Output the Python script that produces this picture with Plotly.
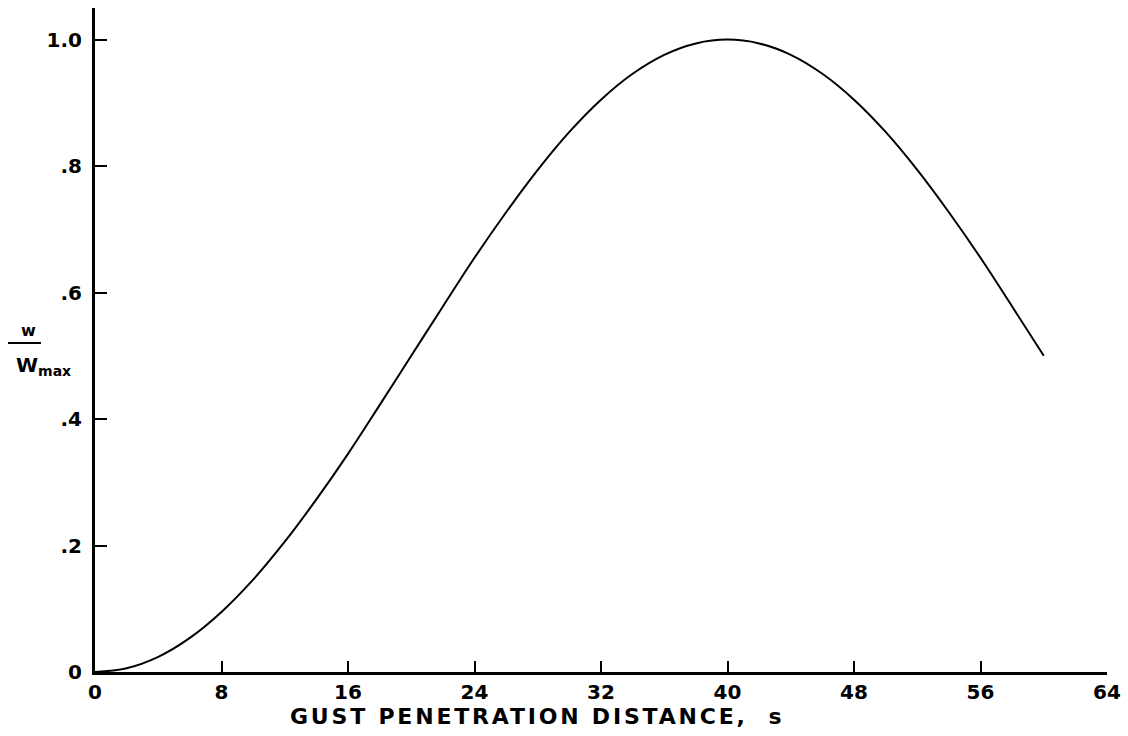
import plotly.graph_objects as go

# Data
s_values = [0, 2, 4, 6, 8, 10, 12, 14, 16, 18, 20, 22, 24, 26, 28, 30,
            32, 34, 36, 38, 40, 42, 44, 46, 48, 50, 52, 54, 56, 58, 60]
w_ratio = [0.000, 0.006, 0.024, 0.054, 0.095, 0.146, 0.206, 0.273, 0.345,
           0.422, 0.500, 0.578, 0.655, 0.727, 0.794, 0.854, 0.905, 0.946,
           0.976, 0.994, 1.000, 0.994, 0.976, 0.946, 0.905, 0.854, 0.794,
           0.727, 0.655, 0.578, 0.500]

x_ticks = [0, 8, 16, 24, 32, 40, 48, 56, 64]
x_tick_labels = ["0", "8", "16", "24", "32", "40", "48", "56", "64"]
y_ticks = [0, 0.2, 0.4, 0.6, 0.8, 1.0]
y_tick_labels = ["0", ".2", ".4", ".6", ".8", "1.0"]

W, H = 1128, 736
L, R, T, B = 95, 21, 8, 64
pw, ph = W - L - R, H - T - B

def px(x):
    return (x - L) / pw

def py(y):
    return (H - B - y) / ph

font = dict(family="DejaVu Sans", size=20, color="black", weight="bold")

fig = go.Figure()
fig.add_trace(go.Scatter(x=s_values, y=w_ratio, mode="lines",
                         line=dict(color="black", width=2, shape="spline"),
                         hoverinfo="skip", showlegend=False))

fig.update_layout(
    width=W, height=H,
    margin=dict(l=L, r=R, t=T, b=B, pad=0),
    paper_bgcolor="white", plot_bgcolor="white",
    font=font,
    xaxis=dict(range=[0, 64], tickvals=x_ticks, ticktext=x_tick_labels,
               ticks="inside", ticklen=11, tickwidth=2, tickcolor="black",
               showline=True, linewidth=3, linecolor="black",
               showgrid=False, zeroline=False, tickfont=font,
               ticklabelstandoff=0),
    yaxis=dict(range=[0, 1.05], tickvals=y_ticks, ticktext=y_tick_labels,
               ticks="inside", ticklen=12, tickwidth=2, tickcolor="black",
               showline=True, linewidth=3, linecolor="black",
               showgrid=False, zeroline=False, tickfont=font,
               ticklabelstandoff=6),
)

# x-axis title
fig.add_annotation(text='<span style="letter-spacing:2.8px">GUST PENETRATION DISTANCE,  s</span>',
                   xref="paper", yref="paper",
                   x=px(537), y=py(716), xanchor="center", yanchor="middle",
                   showarrow=False,
                   font=dict(family="DejaVu Sans", size=22, color="black", weight="bold"))

# y-axis label: w over W_max
fig.add_annotation(text="w", xref="paper", yref="paper",
                   x=px(28), y=py(330), xanchor="center", yanchor="middle",
                   showarrow=False,
                   font=dict(family="DejaVu Sans", size=16, color="black", weight="bold"))
fig.add_shape(type="line", xref="paper", yref="paper",
              x0=px(8), x1=px(41), y0=py(343), y1=py(343),
              line=dict(color="black", width=2))
fig.add_annotation(text="W<sub>max</sub>", xref="paper", yref="paper",
                   x=px(14), y=py(366), xanchor="left", yanchor="middle",
                   showarrow=False,
                   font=dict(family="DejaVu Sans", size=20, color="black", weight="bold"))

fig.write_html("out.html")
